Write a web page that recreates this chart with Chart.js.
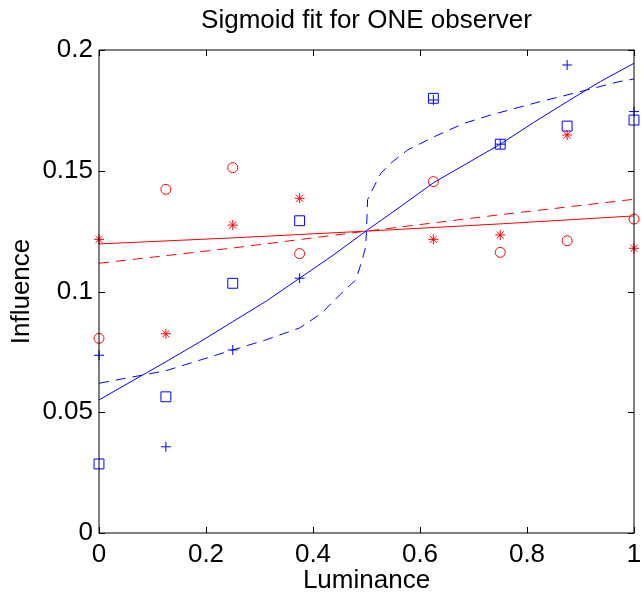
<!DOCTYPE html>
<html lang="en">
<head>
<meta charset="UTF-8" />
<title>Sigmoid fit for ONE observer</title>
<style>
  html, body { margin: 0; padding: 0; background: #fff; }
  .box { width: 642px; height: 592px; }
</style>
</head>
<body>
<div class="box"><canvas id="fit" width="642" height="592"></canvas></div>
<script src="https://cdn.jsdelivr.net/npm/chart.js"></script>
<script>
// measured luminance levels (0.5 has no markers)
const luminance = [0, 0.125, 0.25, 0.375, 0.625, 0.75, 0.875, 1];
const redCircles = [0.0806, 0.1423, 0.1513, 0.1157, 0.1455, 0.1162, 0.121, 0.130];
const redStars = [0.1216, 0.0825, 0.1275, 0.1386, 0.1216, 0.1234, 0.1648, 0.1179];
const blueSquares = [0.0286, 0.0564, 0.1034, 0.1293, 0.180, 0.161, 0.1685, 0.171];
const bluePluses = [0.0736, 0.0357, 0.0758, 0.1055, 0.1793, 0.161, 0.1938, 0.1745];

// fitted curves
const blueFitX = [0, 0.0625, 0.125, 0.1875, 0.25, 0.3125, 0.375, 0.4375, 0.5, 0.5625, 0.625, 0.6875, 0.75, 0.8125, 0.875, 0.9375, 1];
const blueFit = [0.0551, 0.063, 0.0709, 0.079, 0.0875, 0.096, 0.1055, 0.115, 0.1252, 0.135, 0.145, 0.153, 0.161, 0.170, 0.1786, 0.187, 0.1945];
const blueSigX = [0, 0.125, 0.25, 0.3125, 0.375, 0.416, 0.45, 0.48, 0.49, 0.498, 0.5, 0.502, 0.509, 0.527, 0.549, 0.577, 0.6265, 0.682, 0.731, 0.824, 0.886, 0.972, 1];
const blueSig = [0.062, 0.0672, 0.0758, 0.080, 0.0849, 0.091, 0.0986, 0.1048, 0.1117, 0.118, 0.1252, 0.138, 0.1413, 0.149, 0.1538, 0.1586, 0.1641, 0.1696, 0.173, 0.1786, 0.182, 0.1869, 0.188];
const redFitX = [0, 0.25, 0.5, 0.75, 1];
const redFit = [0.1197, 0.1222, 0.1250, 0.128, 0.1313];
const redSig = [0.1117, 0.118, 0.1250, 0.1318, 0.1382];

const xTicks = [0, 0.2, 0.4, 0.6, 0.8, 1];
const yTicks = [0, 0.05, 0.1, 0.15, 0.2];

const RED = "#ff0000";
const BLUE = "#0000ff";
const pts = (xs, ys) => xs.map((x, i) => ({ x: x, y: ys[i] }));

Chart.defaults.font.family = "'Liberation Sans', Arial, Helvetica, sans-serif";
Chart.defaults.font.size = 26;
Chart.defaults.color = "#000";

function markers(data, style, color, radius) {
  return {
    data: data, showLine: false, clip: false,
    pointStyle: style, pointRadius: radius,
    borderColor: color, backgroundColor: "transparent", pointBorderWidth: 1
  };
}
function curve(data, color, dash) {
  return {
    data: data, showLine: true, pointRadius: 0,
    borderColor: color, borderWidth: 1, borderDash: dash, fill: false
  };
}

// MATLAB style: closed box, inward ticks on all four sides, title over the axes
const matlabAxes = {
  id: "matlabAxes",
  afterDraw(chart) {
    const { ctx, chartArea: a, scales } = chart;
    ctx.save();
    ctx.strokeStyle = "#000";
    ctx.lineWidth = 1;
    ctx.strokeRect(a.left, a.top, a.right - a.left, a.bottom - a.top);
    const tl = 6;
    ctx.beginPath();
    scales.x.ticks.forEach(t => {
      const px = Math.round(scales.x.getPixelForValue(t.value)) + 0.5;
      ctx.moveTo(px, a.bottom); ctx.lineTo(px, a.bottom - tl);
      ctx.moveTo(px, a.top); ctx.lineTo(px, a.top + tl);
    });
    scales.y.ticks.forEach(t => {
      const py = Math.round(scales.y.getPixelForValue(t.value)) + 0.5;
      ctx.moveTo(a.left, py); ctx.lineTo(a.left + tl, py);
      ctx.moveTo(a.right, py); ctx.lineTo(a.right - tl, py);
    });
    ctx.stroke();
    ctx.fillStyle = "#000";
    ctx.font = "26px 'Liberation Sans', Arial, sans-serif";
    ctx.textAlign = "center";
    ctx.textBaseline = "alphabetic";
    ctx.fillText("Sigmoid fit for ONE observer", (a.left + a.right) / 2, 28);
    ctx.restore();
  }
};

new Chart(document.getElementById("fit"), {
  type: "scatter",
  data: {
    datasets: [
      curve(pts(blueFitX, blueFit), BLUE, []),
      curve(pts(blueSigX, blueSig), BLUE, [10, 7]),
      curve(pts(redFitX, redFit), RED, []),
      curve(pts(redFitX, redSig), RED, [10, 7]),
      markers(pts(luminance, redCircles), "circle", RED, 5),
      markers(pts(luminance, redStars), "star", RED, 5),
      markers(pts(luminance, blueSquares), "rect", BLUE, 7),
      markers(pts(luminance, bluePluses), "cross", BLUE, 5)
    ]
  },
  options: {
    responsive: false,
    animation: false,
    events: [],
    layout: { padding: { top: 50, right: 4, left: 0, bottom: 0 } },
    plugins: { legend: { display: false }, tooltip: { enabled: false } },
    scales: {
      x: {
        type: "linear", min: 0, max: 1,
        grid: { display: false, drawTicks: false }, border: { display: false },
        afterBuildTicks: s => { s.ticks = xTicks.map(v => ({ value: v })); },
        afterFit: s => { s.height = 59; s.paddingLeft = 0; s.paddingRight = 0; },
        ticks: { padding: 6, maxRotation: 0, callback: v => String(v) },
        title: { display: true, text: "Luminance", font: { size: 26, lineHeight: 0.85 }, padding: { top: 0, bottom: 0 } }
      },
      y: {
        type: "linear", min: 0, max: 0.2,
        grid: { display: false, drawTicks: false }, border: { display: false },
        afterBuildTicks: s => { s.ticks = yTicks.map(v => ({ value: v })); },
        afterFit: s => { s.width = 99; s.paddingTop = 0; s.paddingBottom = 0; },
        ticks: { padding: 6, callback: v => String(v) },
        title: { display: true, text: "Influence", font: { size: 26, lineHeight: 1.2 }, padding: { top: 6, bottom: 0 } }
      }
    }
  },
  plugins: [matlabAxes]
});
</script>
</body>
</html>
